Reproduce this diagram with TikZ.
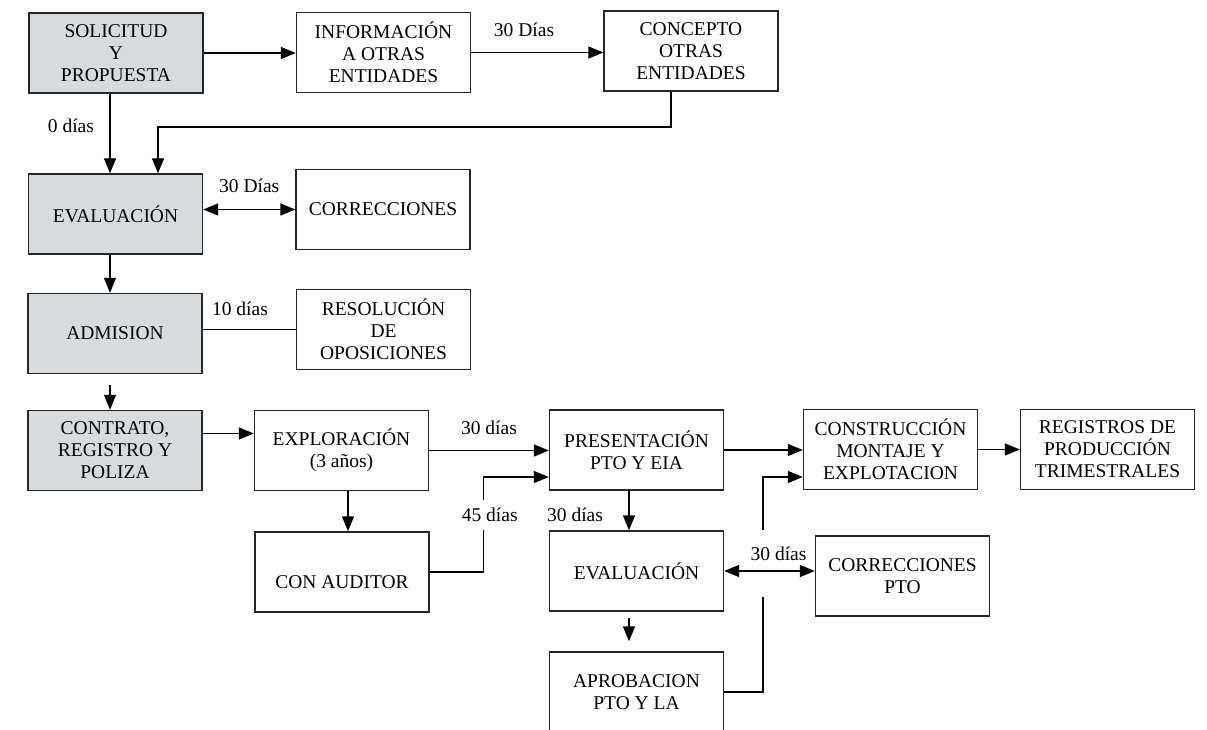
\documentclass[tikz,border=0pt]{standalone}
\usepackage{fontspec}
\setmainfont{Liberation Serif}
\usetikzlibrary{arrows.meta}
\definecolor{boxgray}{RGB}{216,219,221}

\begin{document}
\begin{tikzpicture}[x=1pt, y=-1pt, line width=1.4pt,
    >={Triangle[length=15pt,width=12pt]},
    font=\fontsize{19.5}{22}\selectfont,
    box/.style={draw=black!85, align=center, minimum width=174pt, minimum height=80pt, inner sep=2pt},
    graybox/.style={box, fill=boxgray}]
  \useasboundingbox (0,0) rectangle (1207,730);
  \fill[white] (0,0) rectangle (1207,730);

  \node[graybox] (solicitud) at (116,53) {SOLICITUD\\Y\\PROPUESTA};
  \node[box] (informacion) at (383.5,52.5) {INFORMACIÓN\\A OTRAS\\ENTIDADES};
  \node[box] (concepto) at (691,51) {CONCEPTO\\OTRAS\\ENTIDADES};
  \node[graybox] (evaluacion) at (115.5,214) {EVALUACIÓN};
  \node[box] (correcciones) at (383,209.5) {CORRECCIONES};
  \node[graybox] (admision) at (115,333.5) {ADMISION};
  \node[box] (resolucion) at (383.5,329.5) {RESOLUCIÓN\\DE\\OPOSICIONES};
  \node[graybox] (contrato) at (115,450.5) {CONTRATO,\\REGISTRO Y\\POLIZA};
  \node[box] (exploracion) at (341.5,450.5) {EXPLORACIÓN\\(3 años)};
  \node[box, text height=33pt] (auditor) at (342,572) {CON AUDITOR};
  \node[box] (presentacion) at (636.5,450) {PRESENTACIÓN\\PTO Y EIA};
  \node[box] (evaluacion2) at (636.5,571) {EVALUACIÓN};
  \node[box] (aprobacion) at (636.5,692) {APROBACION\\PTO Y LA};
  \node[box] (correccionespto) at (902.5,576) {CORRECCIONES\\PTO};
  \node[box] (construccion) at (890.5,449.5) {CONSTRUCCIÓN\\MONTAJE Y\\EXPLOTACION};
  \node[box] (registros) at (1107.5,449.5) {REGISTROS DE\\PRODUCCIÓN\\TRIMESTRALES};

  \coordinate (retorno) at (400,127);
  \coordinate (corte1) at (763,597);
  \coordinate (corte2) at (763,530);

  % solicitud y evaluacion
  \draw[->] (solicitud.east) -- (solicitud.east -| informacion.west);
  \draw[->] (informacion.east) to node[above=12pt, pos=0.4] {30 Días} (informacion.east -| concepto.west);
  \draw[->] ([xshift=-6pt]solicitud.south) to node[left=12pt, pos=0.4] {0 días} ([xshift=-5.5pt]evaluacion.north);
  \draw[->] ([xshift=-20pt]concepto.south) |- (retorno) -| ([xshift=42.5pt]evaluacion.north);
  \draw[<->] (evaluacion.east |- correcciones) to node[above=13pt] {30 Días} (correcciones.west);
  \draw[->] ([xshift=-5.5pt]evaluacion.south) -- ([xshift=-5pt]admision.north);
  \draw (admision.east |- resolucion) to node[above=10pt, pos=0.4] {10 días} (resolucion.west);
  \draw[->] ([xshift=-5pt, yshift=-11pt]admision.south) -- ([xshift=-5pt]contrato.north);

  % exploracion y explotacion
  \draw[->] ([yshift=17pt]contrato.east) -- ([yshift=17pt]contrato.east -| exploracion.west);
  \draw[->] (exploracion.east) to node[above=12pt] {30 días} (exploracion.east -| presentacion.west);
  \draw[->] ([xshift=6.5pt]exploracion.south) -- ([xshift=6pt]auditor.north);
  \draw[->] (auditor.east) -- ++(54,0) |- node[pos=0.3, fill=white, inner ysep=8pt, xshift=6pt] {45 días} ([yshift=-27pt]presentacion.west);
  \draw[->] (presentacion.east) -- (presentacion.east -| construccion.west);
  \draw[->] (construccion.east) -- (construccion.east -| registros.west);
  \draw[->] ([xshift=-7.5pt]presentacion.south) to node[left=22pt, yshift=-4pt] {30 días} ([xshift=-7.5pt]evaluacion2.north);
  \draw[<->] (evaluacion2.east) to node[above=6pt, pos=0.6] {30 días} (evaluacion2.east -| correccionespto.west);
  \draw[->] ([xshift=-7.5pt, yshift=-6pt]evaluacion2.south) -- ([xshift=-7.5pt, yshift=10pt]aprobacion.north);
  \draw (aprobacion.east) -| (corte1);
  \draw[->] (corte2) |- ([yshift=-27.5pt]construccion.west);
\end{tikzpicture}
\end{document}
